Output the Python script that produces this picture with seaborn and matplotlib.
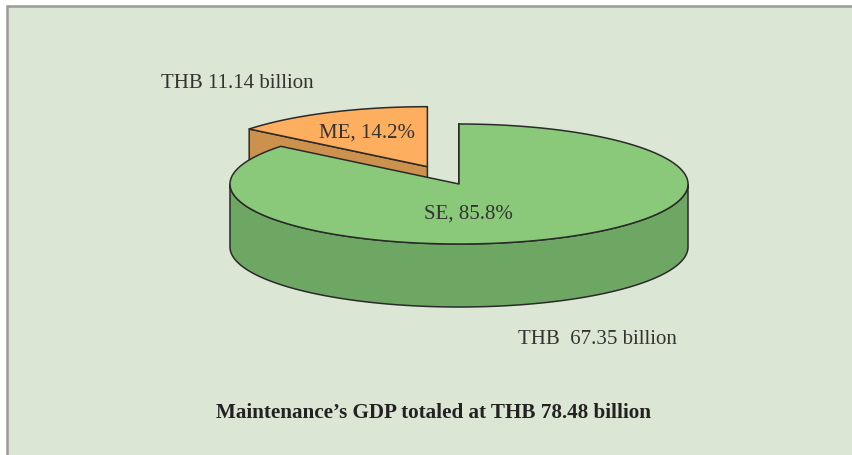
import numpy as np
import matplotlib
matplotlib.use("Agg")
import matplotlib.pyplot as plt
from matplotlib.patches import Polygon, Rectangle
import seaborn as sns

# Maintenance GDP split by enterprise size
segments = ["ME", "SE"]
gdp_billion = [11.14, 67.35]
shares_pct = [14.2, 85.8]
value_labels = ["THB 11.14 billion", "THB  67.35 billion"]
explode = [0.32, 0.0]
title = "Maintenance\u2019s GDP totaled at THB 78.48 billion"

sns.set_theme(style="white")
plt.rcParams["font.family"] = ["Liberation Serif", "DejaVu Serif"]

top_colors = sns.color_palette(["#fdae5e", "#8ac87a"])
side_colors = sns.color_palette(["#cd914e", "#6ea763"])
edge_color = "#2a2a2a"
bg_color = "#dce6d4"

W, H = 852, 456
fig = plt.figure(figsize=(W / 100, H / 100), dpi=100, facecolor="white")
ax = fig.add_axes([0, 0, 1, 1])
ax.set_xlim(0, W)
ax.set_ylim(H, 0)
ax.axis("off")

# panel background with grey rule on top and left
ax.add_patch(Rectangle((7, 7), W + 20, H + 20, facecolor=bg_color,
                       edgecolor="#9a9a9a", linewidth=1.8, zorder=0))

# 3-D pie geometry (pixel units of the axes)
cx, cy, rx, ry, depth = 459, 185, 229, 60, 63


def rim(t, c, dz=0.0):
    return np.column_stack([c[0] + rx * np.cos(t), c[1] - ry * np.sin(t) + dz])


total = sum(gdp_billion)
fracs = [v / total for v in gdp_billion]
starts = 90 + 360 * np.concatenate([[0], np.cumsum(fracs)[:-1]])
ends = starts + 360 * np.array(fracs)

slices = []
for i in range(len(segments)):
    t0, t1 = np.radians(starts[i]), np.radians(ends[i])
    mid = 0.5 * (t0 + t1)
    c = (cx + explode[i] * rx * np.cos(mid), cy - explode[i] * ry * np.sin(mid))
    slices.append((i, t0, t1, mid, c))

# paint back slices first
slices.sort(key=lambda s: -np.sin(s[3]))

for order, (i, t0, t1, mid, c) in enumerate(slices):
    z = 2 + 3 * order
    apex = np.array([[c[0], c[1]]])
    kw = dict(edgecolor=edge_color, linewidth=1.1, joinstyle="round")

    # radial faces facing the viewer
    for t, nrm_y in ((t0, -np.cos(t0)), (t1, np.cos(t1))):
        if nrm_y <= 1e-9:
            p = rim(np.array([t]), c)
            pts = np.vstack([apex, p, p + [0, depth], apex + [0, depth]])
            ax.add_patch(Polygon(pts, closed=True, facecolor=side_colors[i], zorder=z, **kw))

    # outer wall on the front half (180..360 deg)
    for k in range(-1, 3):
        a = max(t0, np.pi + 2 * np.pi * k)
        b = min(t1, 2 * np.pi + 2 * np.pi * k)
        if b > a:
            t = np.linspace(a, b, 200)
            pts = np.vstack([rim(t, c), rim(t[::-1], c, depth)])
            ax.add_patch(Polygon(pts, closed=True, facecolor=side_colors[i], zorder=z + 1, **kw))

    # top face
    t = np.linspace(t0, t1, 400)
    pts = np.vstack([apex, rim(t, c)])
    ax.add_patch(Polygon(pts, closed=True, facecolor=top_colors[i], zorder=z + 2, **kw))

txt = dict(color="#333333", fontsize=15, zorder=20)
ax.text(415, 133, f"{segments[0]}, {shares_pct[0]:.1f}%", ha="right", va="center", **txt)
ax.text(468, 214, f"{segments[1]}, {shares_pct[1]:.1f}%", ha="center", va="center", **txt)
ax.text(161, 83, value_labels[0], ha="left", va="center", **txt)
ax.text(518, 340, value_labels[1], ha="left", va="center", **txt)
ax.text(434, 413, title, ha="center", va="center", fontsize=15.2, fontweight="bold",
        color="#222222", zorder=20)

fig.savefig("out.png", dpi=100, facecolor="white")
